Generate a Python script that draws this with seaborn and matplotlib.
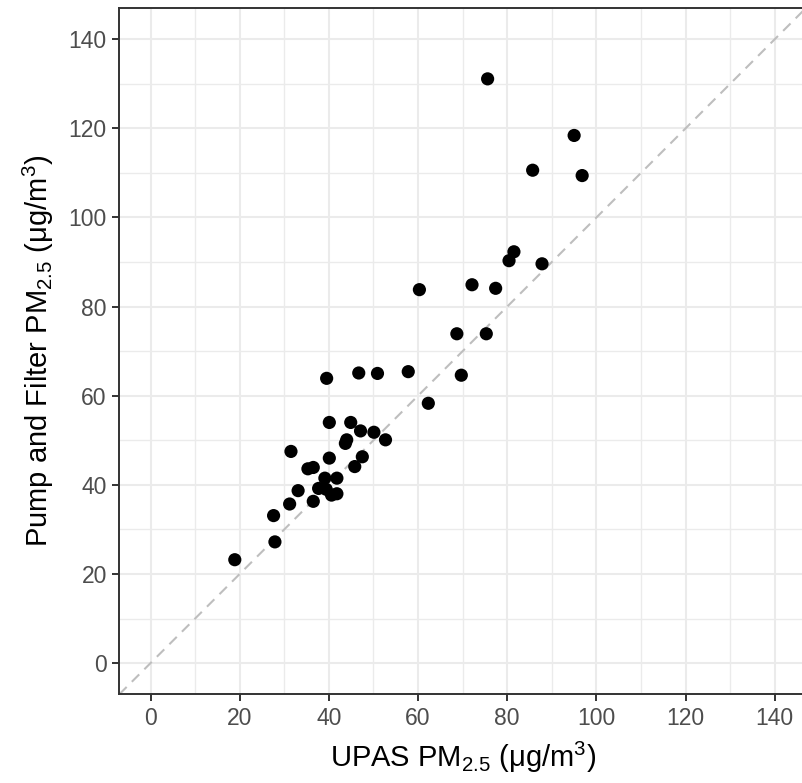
import matplotlib
matplotlib.use("Agg")
import matplotlib.pyplot as plt
from matplotlib.ticker import MultipleLocator
import seaborn as sns
import pandas as pd

upas = [18.9, 27.9, 27.6, 31.2, 33.1, 31.5, 36.5, 37.7, 35.3, 36.5,
        39.1, 39.4, 40.6, 41.8, 41.8, 40.1, 40.1, 39.5, 45.8, 47.5,
        43.7, 44.0, 44.9, 47.1, 50.1, 52.7, 62.3, 75.6, 95.0, 85.7,
        96.8, 81.5, 80.4, 87.8, 72.1, 77.4, 60.3, 68.7, 75.3, 46.7,
        50.9, 57.8, 69.7]
pump = [23.2, 27.2, 33.1, 35.7, 38.7, 47.5, 36.3, 39.2, 43.6, 43.9,
        41.5, 39.0, 37.7, 38.0, 41.5, 46.0, 54.0, 63.9, 44.1, 46.3,
        49.3, 50.1, 54.0, 52.1, 51.8, 50.1, 58.3, 131.1, 118.4, 110.6,
        109.4, 92.3, 90.3, 89.6, 84.9, 84.1, 83.8, 73.9, 73.9, 65.1,
        65.0, 65.4, 64.6]
ticks = [0, 20, 40, 60, 80, 100, 120, 140]

df = pd.DataFrame({"upas": upas, "pump": pump})

sns.set_theme(style="white")
plt.rcParams["font.family"] = ["Liberation Sans", "DejaVu Sans"]
plt.rcParams["mathtext.default"] = "regular"

fig = plt.figure(figsize=(8.03, 7.83), dpi=100)
ax = fig.add_axes([119.3 / 803, 1 - 694.3 / 783, (806 - 119.3) / 803, (694.3 - 8) / 783])

ax.set_xlim(-7, 147)
ax.set_ylim(-7, 147)
ax.set_xticks(ticks)
ax.set_yticks(ticks)
ax.xaxis.set_minor_locator(MultipleLocator(10))
ax.yaxis.set_minor_locator(MultipleLocator(10))
ax.grid(which="major", color="#EBEBEB", linewidth=1.5)
ax.grid(which="minor", color="#EBEBEB", linewidth=1.0)
ax.set_axisbelow(True)

ax.axline((0, 0), slope=1, color="#BEBEBE", linewidth=1.5, dashes=(5, 3.5), zorder=1.5)

sns.scatterplot(data=df, x="upas", y="pump", ax=ax, color="black", s=90,
                edgecolor="none", linewidth=0, zorder=3)

for sp in ax.spines.values():
    sp.set_color("#333333")
    sp.set_linewidth(1.4)

ax.tick_params(axis="both", which="major", length=5, width=1.4, color="#333333",
               labelcolor="#4D4D4D", labelsize=16.5, pad=4, bottom=True, left=True)
ax.tick_params(axis="both", which="minor", length=0)

ax.set_xlabel(r"UPAS PM$_{2.5}$ (μg/m$^3$)", fontsize=21, color="black", labelpad=7)
ax.set_ylabel(r"Pump and Filter PM$_{2.5}$ (μg/m$^3$)", fontsize=21, color="black", labelpad=9)

fig.savefig("out.png", dpi=100)
